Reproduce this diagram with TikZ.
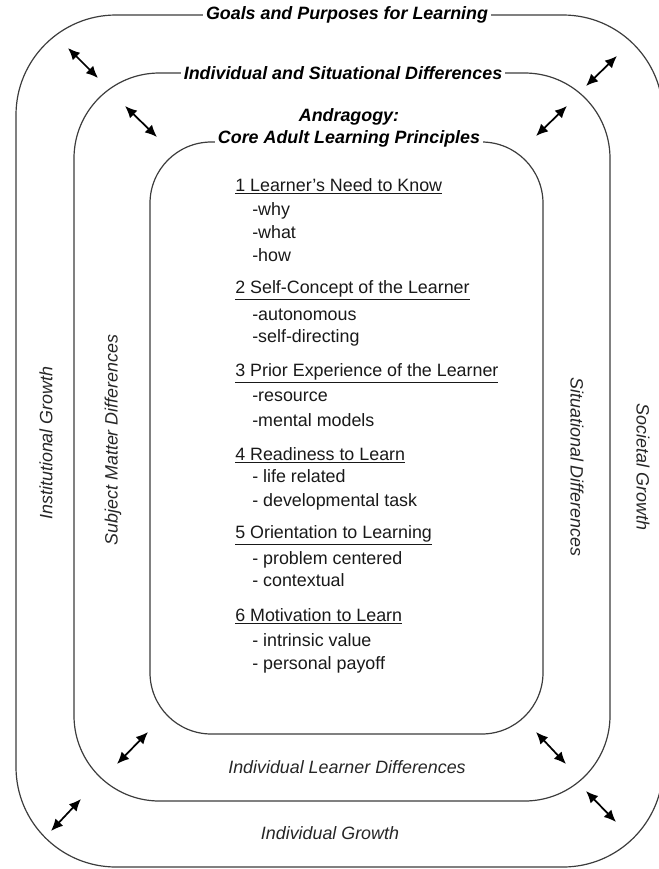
\documentclass[tikz,border=0pt]{standalone}
\usepackage{fontspec}
\setmainfont{Liberation Sans}
\usepackage{tikz}
\usetikzlibrary{arrows.meta}
\definecolor{ringgray}{HTML}{3C3C3C}

\begin{document}
\begin{tikzpicture}[
    x=0.75pt, y=-0.75pt,
    >={Latex[length=9pt,width=8pt]},
    ring/.style={draw=ringgray, line width=0.9pt},
    ring title/.style={fill=white, inner sep=2pt, font=\fontsize{13.4}{16}\selectfont\bfseries\itshape},
    side label/.style={font=\fontsize{13.4}{16}\selectfont\itshape, text=black!85},
    principle/.style={anchor=mid west, inner sep=0pt, font=\fontsize{13.4}{16}\selectfont, text=black!90},
    item/.style={principle},
    link arrow/.style={<->, line width=1.3pt}
    ]

    \def\Rout{75pt}   % outer ring
    \def\Rmid{64pt}   % differences ring
    \def\Rin{46pt}    % core principles

    \useasboundingbox (0,0) rectangle (659,869);
    \clip (0,0) rectangle (659,869);

    \draw[ring, rounded corners=\Rout] (16,15) rectangle (663,867);
    \draw[ring, rounded corners=\Rmid] (74,73) rectangle (610,801);
    \draw[ring, rounded corners=\Rin] (150,142) rectangle (543,734);

    \node[ring title] (goals) at (347,15) {Goals and Purposes for Learning};
    \node[ring title] (indsit) at (343,73) {Individual and Situational Differences};
    \node[ring title, fill=none] (andra) at (349,117) {Andragogy:};
    \node[ring title] (core) at (349,139) {Core Adult Learning Principles};

    \node[side label, rotate=90] (inst) at (46,443) {Institutional Growth};
    \node[side label, rotate=90] (subj) at (113,440) {Subject Matter Differences};
    \node[side label, rotate=-90] (situ) at (577,467) {Situational Differences};
    \node[side label, rotate=-90] (soc) at (643,467) {Societal Growth};
    \node[side label] (learner) at (347,767) {Individual Learner Differences};
    \node[side label] (growth) at (330,833) {Individual Growth};

    % principles
    \foreach \n/\y/\txt in {p1/188/{1 Learner's Need to Know},
                            p2/290/{2 Self-Concept of the Learner},
                            p3/373/{3 Prior Experience of the Learner},
                            p4/457/{4 Readiness to Learn},
                            p5/535/{5 Orientation to Learning},
                            p6/618/{6 Motivation to Learn}}
        \node[principle] (\n) at (235,\y) {\underline{\txt}};

    \foreach \n/\y/\txt in {why/212/{-why}, what/235/{-what}, how/258/{-how},
                            auto/317/{-autonomous}, selfdir/339/{-self-directing},
                            res/398/{-resource}, mental/423/{-mental models},
                            life/479/{- life related}, devel/503/{- developmental task},
                            prob/561/{- problem centered}, context/583/{- contextual},
                            intr/643/{- intrinsic value}, pay/666/{- personal payoff}}
        \node[item] (\n) at (252,\y) {\txt};

    % two-way arrows between the rings
    \coordinate (tlo a) at (68,48);   \coordinate (tlo b) at (98,78);
    \coordinate (tro a) at (586,86);  \coordinate (tro b) at (617,56);
    \coordinate (tlm a) at (125,106); \coordinate (tlm b) at (157,137);
    \coordinate (trm a) at (536,136); \coordinate (trm b) at (567,106);
    \coordinate (bli a) at (117,764); \coordinate (bli b) at (148,732);
    \coordinate (bri a) at (536,732); \coordinate (bri b) at (566,764);
    \coordinate (blo a) at (51,831);  \coordinate (blo b) at (81,799);
    \coordinate (bro a) at (586,791); \coordinate (bro b) at (616,822);

    \foreach \n in {tlo, tro, tlm, trm, bli, bri, blo, bro}
        \draw[link arrow] (\n\space a) -- (\n\space b);

\end{tikzpicture}
\end{document}
